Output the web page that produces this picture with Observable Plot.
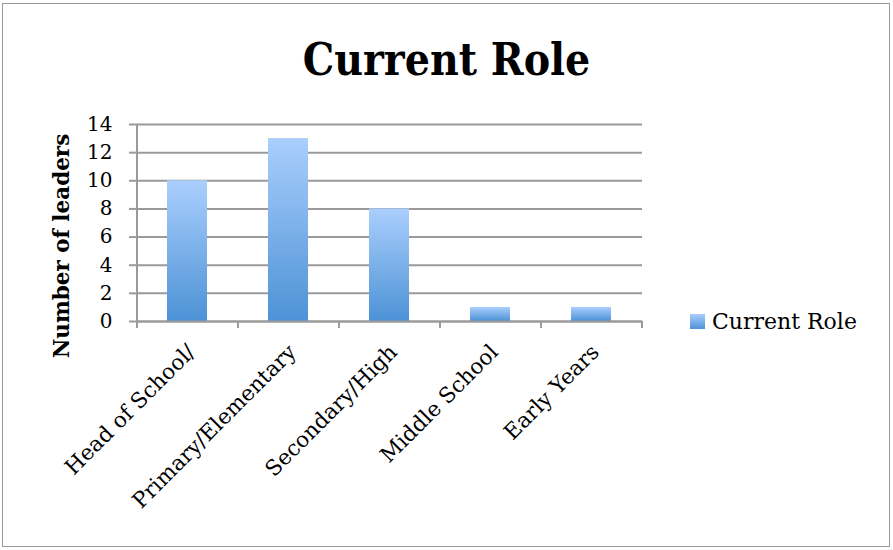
<!DOCTYPE html>
<html>
<head>
<meta charset="utf-8">
<script src="https://cdn.jsdelivr.net/npm/d3@7"></script>
<script src="https://cdn.jsdelivr.net/npm/@observablehq/plot@0.6"></script>
<style>
  html, body { margin: 0; padding: 0; background: #fff; }
  #wrap { position: relative; width: 893px; height: 550px; overflow: hidden; font-family: "DejaVu Serif", serif; }
  #frame { position: absolute; left: 2px; top: 3px; width: 888px; height: 544px; border: 1.5px solid #9a9a9a; box-sizing: border-box; }
  #title { position: absolute; left: 0; top: 30px; width: 893px; text-align: center; font-size: 44px; font-weight: bold; font-stretch: condensed; color: #000; line-height: 60px; }
  #chart { position: absolute; left: 0; top: 100px; }
  #legend { position: absolute; left: 690px; top: 309px; display: flex; align-items: center; font-size: 22px; color: #000; }
  #legend .sw { width: 15px; height: 15px; background: linear-gradient(#a9cdfc, #4f93d7); margin-right: 7px; }
</style>
</head>
<body>
<div id="wrap">
  <div id="frame"></div>
  <div id="title">Current Role</div>
  <div id="chart"></div>
  <div id="legend"><span class="sw"></span><span>Current Role</span></div>
</div>
<script>
const categories = ["Head of School/", "Primary/Elementary", "Secondary/High", "Middle School", "Early Years"];
const values = [10, 13, 8, 1, 1];
const yTicks = [0, 2, 4, 6, 8, 10, 12, 14];
const seriesName = "Current Role";
const yTitle = "Number of leaders";

const data = categories.map((c, i) => ({category: c, value: values[i]}));

const W = 893, H = 450;
const mL = 137, mR = 251, mT = 24, mB = 229;
const step = (W - mL - mR) / categories.length;

const defs = () => {
  const svg = d3.create("svg:defs");
  const g = svg.append("linearGradient").attr("id", "barGrad").attr("x1", 0).attr("y1", 0).attr("x2", 0).attr("y2", 1);
  g.append("stop").attr("offset", "0%").attr("stop-color", "#aacffd");
  g.append("stop").attr("offset", "100%").attr("stop-color", "#4d92d6");
  const f = svg.append("filter").attr("id", "shadow").attr("x", "-20%").attr("y", "-20%").attr("width", "150%").attr("height", "150%");
  f.append("feDropShadow").attr("dx", 2).attr("dy", 2).attr("stdDeviation", 2).attr("flood-color", "#000").attr("flood-opacity", 0.18);
  return svg.node();
};

const chart = Plot.plot({
  width: W,
  height: H,
  marginLeft: mL,
  marginRight: mR,
  marginTop: mT,
  marginBottom: mB,
  style: {fontFamily: "'DejaVu Serif', serif", background: "transparent", color: "#000", overflow: "visible"},
  x: {domain: categories, paddingInner: 0.6, paddingOuter: 0.3, label: null},
  y: {domain: [0, 14], label: null},
  marks: [
    defs,
    Plot.gridY(yTicks, {stroke: "#9a9a9a", strokeOpacity: 1, strokeWidth: 2}),
    Plot.axisY(yTicks, {tickSize: 8, tickPadding: 17, stroke: "#9a9a9a", strokeWidth: 2, fontSize: 20, label: null}),
    Plot.barY(data, {x: "category", y: "value", fill: "url(#barGrad)", style: {filter: "url(#shadow)"}}),
    Plot.ruleY([0], {stroke: "#9a9a9a", strokeWidth: 2}),
    Plot.ruleX(categories, {x: d => d, y1: 0, y2: 0, insetBottom: -7, dx: -step / 2, stroke: "#9a9a9a", strokeWidth: 2}),
    Plot.ruleX(categories.slice(-1), {x: d => d, y1: 0, y2: 0, insetBottom: -7, dx: step / 2, stroke: "#9a9a9a", strokeWidth: 2}),
    Plot.ruleX([0], {x: () => categories[0], dx: -step / 2, y1: 0, y2: 14, stroke: "#9a9a9a", strokeWidth: 2}),
    Plot.axisX({tickSize: 0, tickPadding: 27, tickRotate: -45, fontSize: 21.5, label: null, dx: 4}),
    Plot.text([yTitle], {frameAnchor: "left", textAnchor: "middle", rotate: -90, dx: -75, dy: 23, fontSize: 21.5, fontWeight: "bold", fill: "#000"})
  ]
});
document.getElementById("chart").appendChild(chart);
</script>
</body>
</html>
